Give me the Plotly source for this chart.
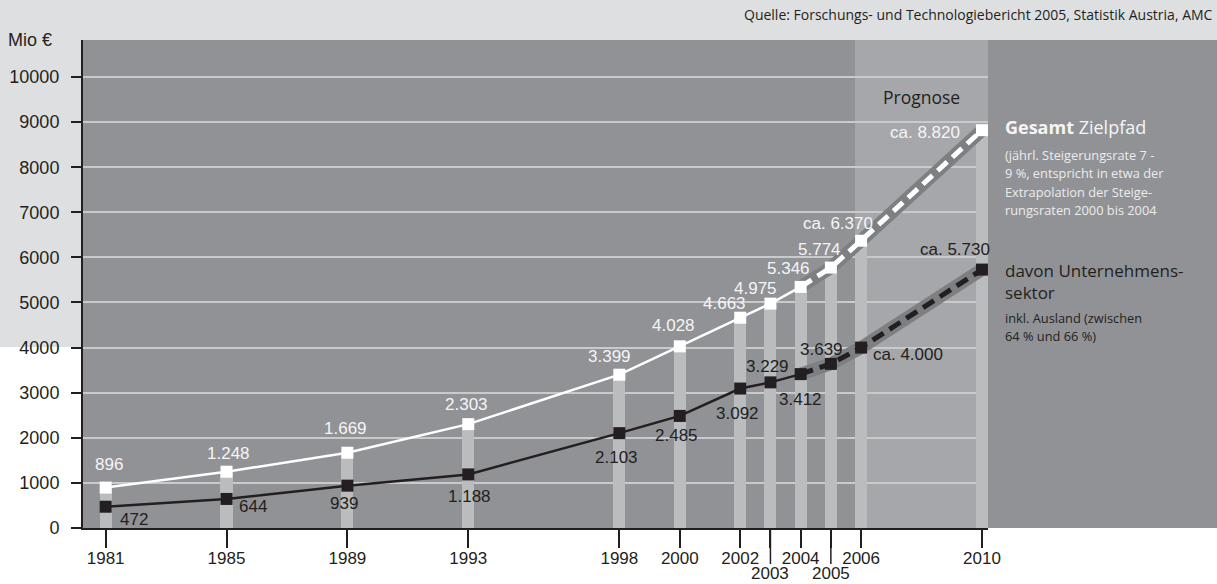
import plotly.graph_objects as go

# ---------------- data ----------------
years = [1981, 1985, 1989, 1993, 1998, 2000, 2002, 2003, 2004, 2005, 2006, 2010]
gesamt = [896, 1248, 1669, 2303, 3399, 4028, 4663, 4975, 5346, 5774, 6370, 8820]
unternehmen = [472, 644, 939, 1188, 2103, 2485, 3092, 3229, 3412, 3639, 4000, 5730]
gesamt_labels = ["896", "1.248", "1.669", "2.303", "3.399", "4.028", "4.663", "4.975",
                 "5.346", "5.774", "ca. 6.370", "ca. 8.820"]
unternehmen_labels = ["472", "644", "939", "1.188", "2.103", "2.485", "3.092", "3.229",
                      "3.412", "3.639", "ca. 4.000", "ca. 5.730"]
x_tick_years = years
low_tick_years = [2003, 2005]          # labels set lower, on longer ticks
x_tick_text = ["" if y in low_tick_years else str(y) for y in x_tick_years]
y_ticks = [0, 1000, 2000, 3000, 4000, 5000, 6000, 7000, 8000, 9000, 10000]
y_tick_text = [str(v) for v in y_ticks]
dashed_from = 2004
forecast_from = 2006

# ---------------- style ----------------
W, H = 1217, 584
L, R, T, B = 83, 229, 40, 56
PW, PH = W - L - R, H - T - B
DARK = "#231f20"
LIGHTBG = "#dedfe1"
PLOTBG = "#919296"
BAND = "#a6a7ab"
BARC = "#bbbcbe"
GRID = "#c9cacc"
HALO = "#7e7f83"
WHITE_TXT = "#f5f5f5"
LBL_FONT = "Liberation Sans, Arial, sans-serif"
LEG_FONT = "Open Sans, Lato, sans-serif"
bar_w = 0.4
xr = [1980.25, 2010.2]
yr = [0, 10820]

# per-label placement (xanchor, xshift px, yshift px)
g_pos = [("center", 3, 23), ("center", 2, 18), ("center", -2, 24), ("center", -2, 20),
         ("center", -10, 18), ("center", -6, 21), ("center", -16, 14), ("center", -15, 15),
         ("center", -12, 18), ("center", -11, 18), ("center", -23, 17), ("right", -20, -2)]
u_pos = [("left", 12, -13), ("left", 10, -8), ("center", -3, -18), ("center", 1, -22),
         ("center", -3, -24), ("center", -3, -20), ("center", -3, -25), ("center", -3, 16),
         ("center", 0, -25), ("center", -9, 14), ("left", 10, -7), ("right", 10, 20)]


def px(xpix):
    return (xpix - L) / PW


def py(ypix):
    return (H - B - ypix) / PH


fig = go.Figure()

# bars (total)
fig.add_trace(go.Bar(x=years, y=gesamt, width=bar_w, marker=dict(color=BARC, line=dict(width=0)),
                     hoverinfo="skip", showlegend=False))

# halos for forecast segments
for vals in (gesamt, unternehmen):
    xs = [y for y in years if y >= dashed_from]
    vs = [v for y, v in zip(years, vals) if y >= dashed_from]
    fig.add_trace(go.Scatter(x=xs, y=vs, mode="lines", line=dict(color=HALO, width=13),
                             showlegend=False, hoverinfo="skip"))

# lines
for vals, col in ((gesamt, "#ffffff"), (unternehmen, DARK)):
    xs = [y for y in years if y <= dashed_from]
    vs = [v for y, v in zip(years, vals) if y <= dashed_from]
    fig.add_trace(go.Scatter(x=xs, y=vs, mode="lines", line=dict(color=col, width=2.5),
                             showlegend=False, hoverinfo="skip"))
    xs = [y for y in years if y >= dashed_from]
    vs = [v for y, v in zip(years, vals) if y >= dashed_from]
    fig.add_trace(go.Scatter(x=xs, y=vs, mode="lines",
                             line=dict(color=col, width=5, dash="13px,7px"),
                             showlegend=False, hoverinfo="skip"))

# markers
for vals, col in ((gesamt, "#ffffff"), (unternehmen, DARK)):
    fig.add_trace(go.Scatter(x=years, y=vals, mode="markers",
                             marker=dict(symbol="square", size=12, color=col, line=dict(width=0)),
                             showlegend=False, hoverinfo="skip"))

annotations = []
for yv, v, t, (xa, dx, dy) in zip(years, gesamt, gesamt_labels, g_pos):
    annotations.append(dict(x=yv, y=v, xref="x", yref="y", text=t, showarrow=False,
                            xanchor=xa, yanchor="middle", xshift=dx, yshift=dy,
                            font=dict(family=LBL_FONT, size=17, color=WHITE_TXT)))
for yv, v, t, (xa, dx, dy) in zip(years, unternehmen, unternehmen_labels, u_pos):
    annotations.append(dict(x=yv, y=v, xref="x", yref="y", text=t, showarrow=False,
                            xanchor=xa, yanchor="middle", xshift=dx, yshift=dy,
                            font=dict(family=LBL_FONT, size=17, color=DARK)))

# lowered year labels (2003, 2005)
for yv in low_tick_years:
    annotations.append(dict(x=yv, y=0, xref="x", yref="paper", text=str(yv), showarrow=False,
                            xanchor="center", yanchor="bottom", borderpad=0,
                            yshift=-(H - T - PH) + 0,
                            font=dict(family=LBL_FONT, size=17, color=DARK)))


def txt(text, xpix, ypix, size, color, family=LEG_FONT, xanchor="left"):
    annotations.append(dict(x=px(xpix), y=py(ypix), xref="paper", yref="paper", text=text,
                            showarrow=False, xanchor=xanchor, yanchor="middle", align="left",
                            font=dict(family=family, size=size, color=color)))


txt("Quelle: Forschungs- und Technologiebericht 2005, Statistik Austria, AMC", 1215, 15, 14, DARK,
    xanchor="right")
txt("Mio €", 6, 40, 18, DARK, family=LBL_FONT)
txt("Prognose", 921, 97, 17.5, DARK, xanchor="center")
txt("<b>Gesamt</b> Zielpfad", 1003, 127, 18, WHITE_TXT)
for i, line in enumerate(["(jährl. Steigerungsrate 7 -", "9 %, entspricht in etwa der",
                          "Extrapolation der Steige-", "rungsraten 2000 bis 2004"]):
    txt(line, 1003, 155 + i * 18.4, 12.8, "#ececec")
txt("davon Unternehmens-<br>sektor", 1003, 281, 17, DARK)
txt("inkl. Ausland (zwischen", 1003, 318, 12.8, DARK)
txt("64 % und 66 %)", 1003, 336, 12.8, DARK)

shapes = [
    # page light areas
    dict(type="rect", xref="paper", yref="paper", x0=px(0), x1=px(W), y0=py(T), y1=py(0),
         fillcolor=LIGHTBG, line=dict(width=0), layer="below"),
    dict(type="rect", xref="paper", yref="paper", x0=px(0), x1=0, y0=py(347), y1=py(T),
         fillcolor=LIGHTBG, line=dict(width=0), layer="below"),
    # right legend panel
    dict(type="rect", xref="paper", yref="paper", x0=1, x1=px(W), y0=0, y1=1,
         fillcolor=PLOTBG, line=dict(width=0), layer="below"),
    # forecast band
    dict(type="rect", xref="x", yref="paper", x0=forecast_from - bar_w / 2, x1=xr[1], y0=0, y1=1,
         fillcolor=BAND, line=dict(width=0), layer="below"),
]
for yv in low_tick_years:
    shapes.append(dict(type="line", xref="x", yref="paper", x0=yv, x1=yv, y0=0, y1=-36 / PH,
                       line=dict(color=DARK, width=1.5)))

fig.update_layout(
    width=W, height=H,
    margin=dict(l=L, r=R, t=T, b=B, pad=0, autoexpand=False),
    paper_bgcolor="#ffffff", plot_bgcolor=PLOTBG,
    barmode="overlay", bargap=0,
    annotations=annotations, shapes=shapes,
    xaxis=dict(range=xr, tickmode="array", tickvals=x_tick_years, ticktext=x_tick_text,
               tickangle=0, ticks="outside", ticklen=18, tickwidth=1.5, tickcolor=DARK,
               automargin=False, ticklabelstandoff=-4,
               showgrid=False, zeroline=False, showline=True, linecolor=DARK, linewidth=2,
               tickfont=dict(family=LBL_FONT, size=17, color=DARK), fixedrange=True),
    yaxis=dict(range=yr, tickmode="array", tickvals=y_ticks, ticktext=y_tick_text,
               ticks="outside", ticklen=10, tickwidth=1.5, tickcolor=DARK, automargin=False,
               showgrid=True, gridcolor=GRID, gridwidth=1.5, zeroline=False,
               showline=True, linecolor=DARK, linewidth=2, ticklabelstandoff=8,
               tickfont=dict(family=LBL_FONT, size=18, color=DARK), fixedrange=True),
    showlegend=False,
)

fig.write_html("out.html", config={"displayModeBar": False},
               post_script="document.body.style.margin='0px';"
                           "document.body.style.padding='0px';")
